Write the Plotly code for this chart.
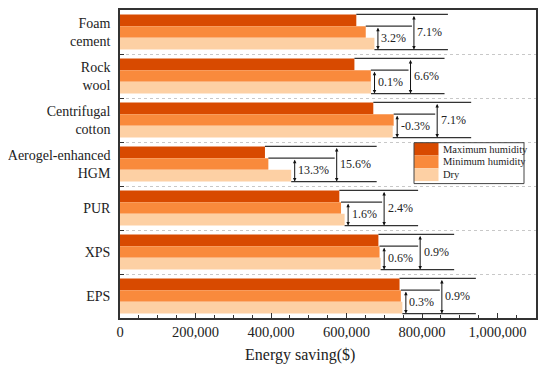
import plotly.graph_objects as go

# ---------------- data ----------------
categories = ["EPS", "XPS", "PUR", "Aerogel-enhanced<br>HGM",
              "Centrifugal<br>cotton", "Rock<br>wool", "Foam<br>cement"]
series_names = ["Maximum humidity", "Minimum humidity", "Dry"]
max_humidity = [740500, 684500, 581000, 384000, 671000, 621000, 626000]
min_humidity = [744000, 687500, 585500, 393000, 725000, 664500, 651000]
dry = [748000, 690500, 595000, 453500, 722500, 665000, 674000]
small_labels = ["0.3%", "0.6%", "1.6%", "13.3%", "-0.3%", "0.1%", "3.2%"]
large_labels = ["0.9%", "0.9%", "2.4%", "15.6%", "7.1%", "6.6%", "7.1%"]
x_tickvals = [0, 200000, 400000, 600000, 800000, 1000000]
x_ticktext = ["0", "200,000", "400,000", "600,000", "800,000", "1,000,000"]

colors = ["#D84A00", "#F98A3C", "#FDD0A4"]

# ---------------- layout constants ----------------
# the page body keeps an 8px default margin, so the figure sits 8px in
OFF = 8
W, H = 550 - OFF, 370 - OFF
PL, PR, PT, PB = 120, 536, 10, 318          # plot area in window pixels
ML, MR, MT, MB = PL - OFF, 550 - PR, PT - OFF, 370 - PB
PW, PH = PR - PL, PB - PT
XMAX = 1102000
FONT = "Liberation Serif"
LINE = "#333333"

def px2x(p):
    return p * XMAX / PW

def paper_x(px):
    return (px - PL) / PW

def paper_y(py):
    return 1 - (py - PT) / PH

bw = 0.8 / 3
offsets = [0.4 - bw, 0.4 - 2 * bw, -0.4]

fig = go.Figure()
for name, vals, col, off in zip(series_names, [max_humidity, min_humidity, dry], colors, offsets):
    fig.add_trace(go.Bar(
        y=categories, x=vals, orientation="h", name=name,
        marker=dict(color=col, line=dict(width=0)),
        width=bw, offset=off, showlegend=False,
        hovertemplate="%{y}: %{x:,}<extra>" + name + "</extra>",
    ))

def label_w(s, size=12):
    w = 0
    for ch in s:
        if ch.isdigit():
            w += 0.5
        elif ch == ".":
            w += 0.25
        elif ch == "%":
            w += 0.833
        elif ch == "-":
            w += 0.333
    return w * size

shapes = []
annotations = []
for i in range(len(categories)):
    mx, mn, dr = max_humidity[i], min_humidity[i], dry[i]
    y_top = i + 0.4
    y_mid = i + 0.4 - bw
    y_bot = i - 0.4
    sx = max(mn, dr) + px2x(3.5)
    lx = sx + px2x(2 + label_w(small_labels[i]) + 9)
    end_x = lx + px2x(2 + label_w(large_labels[i]) + 7)
    for x0, x1, yy in [(mx, end_x, y_top), (mn, lx - px2x(2), y_mid), (dr, end_x, y_bot)]:
        shapes.append(dict(type="line", xref="x", yref="y", x0=x0, x1=x1, y0=yy, y1=yy,
                           line=dict(color=LINE, width=1.3), layer="above"))
    for ax_x, y0, y1, txt in [(sx, y_mid, y_bot, small_labels[i]), (lx, y_top, y_bot, large_labels[i])]:
        annotations.append(dict(x=ax_x, y=y1, ax=ax_x, ay=y0, xref="x", yref="y",
                                axref="x", ayref="y", text="", showarrow=True,
                                arrowhead=2, arrowside="end+start", arrowsize=0.7,
                                arrowwidth=1, arrowcolor="#111111", standoff=0, startstandoff=0))
        annotations.append(dict(x=ax_x + px2x(1.5), y=(y0 + y1) / 2, xref="x", yref="y",
                                text=txt, showarrow=False, xanchor="left", yanchor="middle",
                                font=dict(family=FONT, size=12, color="#222222")))

# custom legend (big swatches, as in the reference)
lg_left, lg_top, lg_right, row_h, sw_w = 414, 142.7, 524, 12.8, 24.5
for k, (name, col) in enumerate(zip(series_names, colors)):
    y0 = lg_top + k * row_h
    shapes.append(dict(type="rect", xref="paper", yref="paper",
                       x0=paper_x(lg_left), x1=paper_x(lg_left + sw_w),
                       y0=paper_y(y0 + row_h), y1=paper_y(y0),
                       fillcolor=col, line=dict(width=0), layer="above"))
    annotations.append(dict(x=paper_x(lg_left + sw_w + 2), y=paper_y(y0 + row_h / 2),
                            xref="paper", yref="paper", text=name, showarrow=False,
                            xanchor="left", yanchor="middle",
                            font=dict(family=FONT, size=10.5, color="#222222")))
shapes.append(dict(type="rect", xref="paper", yref="paper",
                   x0=paper_x(lg_left), x1=paper_x(lg_right),
                   y0=paper_y(lg_top + 3 * row_h + 2.5), y1=paper_y(lg_top),
                   fillcolor="rgba(0,0,0,0)", line=dict(color="#444444", width=1), layer="above"))

annotations.append(dict(x=paper_x(299.5), y=paper_y(355), xref="paper", yref="paper",
                        text="Energy saving($)", showarrow=False, xanchor="center",
                        yanchor="middle", font=dict(family=FONT, size=16, color="#222222")))

fig.update_layout(
    width=W, height=H, margin=dict(l=ML, r=MR, t=MT, b=MB, pad=0, autoexpand=False),
    paper_bgcolor="white", plot_bgcolor="white",
    barmode="overlay", showlegend=False,
    font=dict(family=FONT, size=14.5, color="#222222"),
    shapes=shapes, annotations=annotations,
    xaxis=dict(range=[0, XMAX], tickvals=x_tickvals, ticktext=x_ticktext,
               ticks="inside", ticklen=5, tickwidth=1.3, tickcolor=LINE,
               minor=dict(dtick=50000, ticks="inside", ticklen=3, tickwidth=1, tickcolor=LINE),
               showline=True, linecolor=LINE, linewidth=1.6, mirror=True, automargin=False,
               showgrid=False, zeroline=False, tickfont=dict(size=14.5)),
    yaxis=dict(type="category", categoryorder="array", categoryarray=categories,
               range=[-0.5, len(categories) - 0.5], tickson="boundaries", automargin=False,
               ticks="inside", ticklen=4, tickwidth=1.2, tickcolor=LINE,
               showline=True, linecolor=LINE, linewidth=1.6, mirror=True,
               showgrid=True, gridcolor="#c8c8c8", griddash="dot", gridwidth=1,
               zeroline=False, tickfont=dict(size=14), ticklabelstandoff=5),
)

fig.write_html("out.html")
